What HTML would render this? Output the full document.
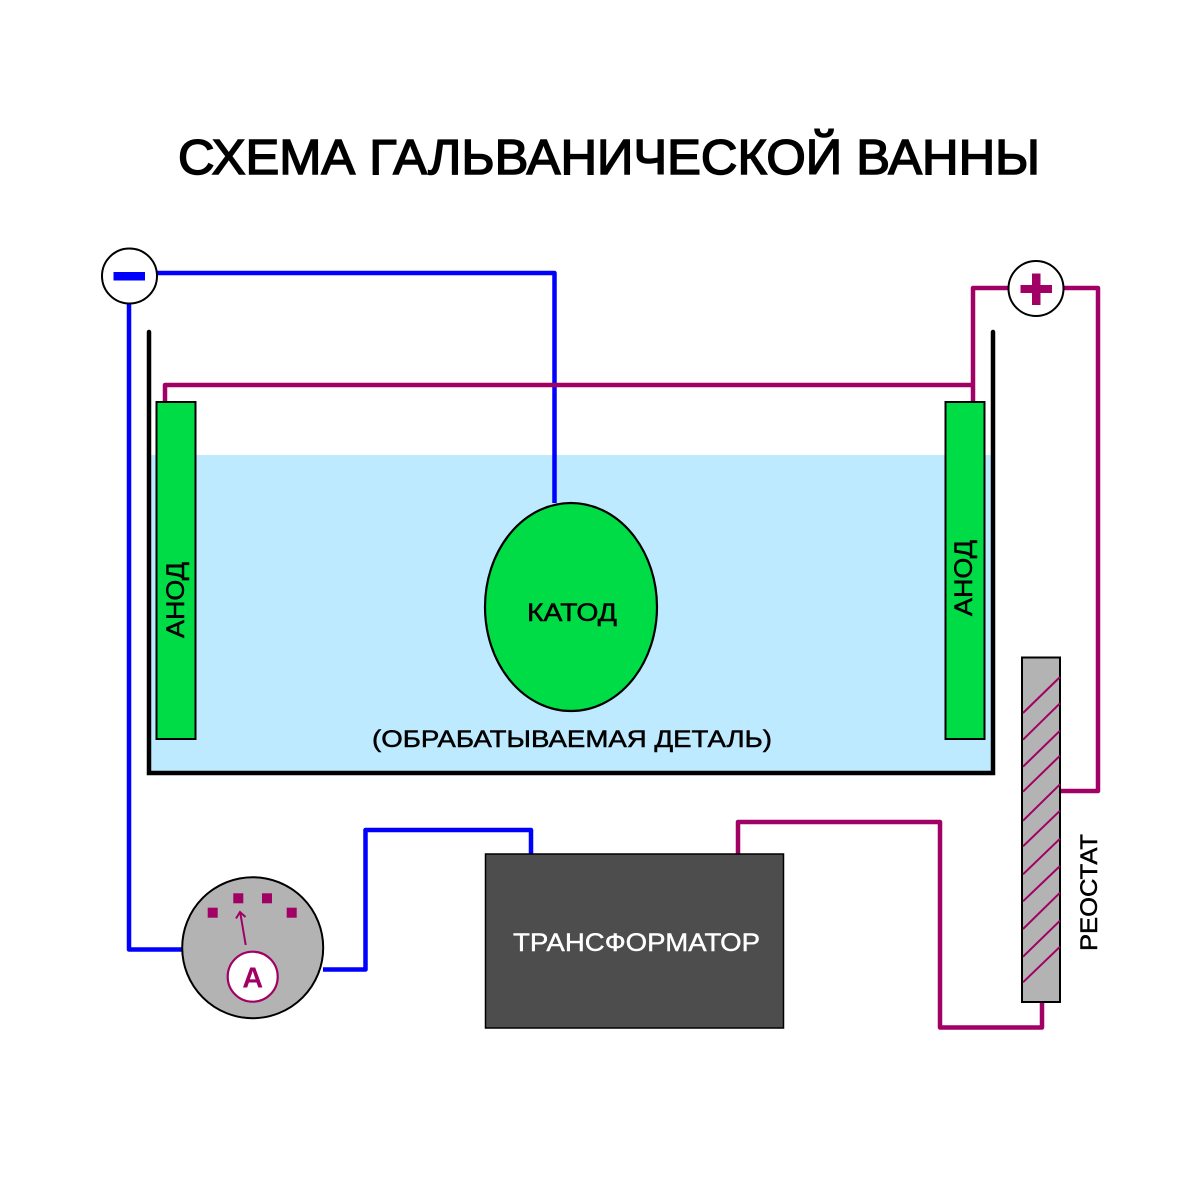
<!DOCTYPE html>
<html><head><meta charset="utf-8"><style>html,body{margin:0;padding:0;background:#fff}svg{display:block}text{font-family:"Liberation Sans",sans-serif}</style></head>
<body>
<svg width="1200" height="1200" viewBox="0 0 1200 1200" xmlns="http://www.w3.org/2000/svg">
<rect width="1200" height="1200" fill="#fff"/>
<text x="178" y="174" font-size="49" stroke="#000" stroke-width="1.5" textLength="862" lengthAdjust="spacingAndGlyphs" fill="#000">СХЕМА ГАЛЬВАНИЧЕСКОЙ ВАННЫ</text>

<rect x="149" y="455" width="844" height="318" fill="#bdeaff"/>

<g fill="none" stroke-width="4.5" stroke-linejoin="round" stroke-linecap="butt">
<g stroke="#0000ff">
<path d="M129 304V949.5H182"/>
<path d="M323 969.5H365.5V830H531V854"/>
<path d="M157 273H554.5V503"/>
</g>
<g stroke="#a10064">
<path d="M165 402V385H973"/>
<path d="M973 402V288H1008"/>
<path d="M1064 288H1098V791H1060"/>
<path d="M738 854V822H940V1027.5H1042V1002"/>
</g>
</g>

<path d="M149 332V773H993V332" fill="none" stroke="#000" stroke-width="4.5" stroke-linecap="round" stroke-linejoin="miter"/>

<rect x="156.5" y="402" width="39" height="337" fill="#00dc46" stroke="#000" stroke-width="2"/>
<rect x="945.5" y="402" width="39" height="337" fill="#00dc46" stroke="#000" stroke-width="2"/>
<ellipse cx="571" cy="607" rx="86" ry="104" fill="#00dc46" stroke="#000" stroke-width="2.2"/>

<g stroke="#000" stroke-width="0.5" fill="#000">
<text transform="translate(184,638) rotate(-90)" font-size="25" textLength="76" lengthAdjust="spacingAndGlyphs">АНОД</text>
<text transform="translate(972,616) rotate(-90)" font-size="25" textLength="76" lengthAdjust="spacingAndGlyphs">АНОД</text>
<text x="527" y="621" font-size="25" textLength="90" lengthAdjust="spacingAndGlyphs">КАТОД</text>
<text x="372" y="747" font-size="24" textLength="400" lengthAdjust="spacingAndGlyphs">(ОБРАБАТЫВАЕМАЯ ДЕТАЛЬ)</text>
<text transform="translate(1097,951) rotate(-90)" font-size="24" textLength="117" lengthAdjust="spacingAndGlyphs">РЕОСТАТ</text>
</g>

<circle cx="129.5" cy="276" r="27.5" fill="#fff" stroke="#000" stroke-width="2"/>
<rect x="113.5" y="272" width="31.5" height="8.5" fill="#0000ff"/>
<circle cx="1036" cy="288.5" r="27.5" fill="#fff" stroke="#000" stroke-width="2"/>
<rect x="1020.5" y="285" width="31.5" height="8" fill="#a10064"/>
<rect x="1032" y="273.5" width="8.5" height="31.5" fill="#a10064"/>

<rect x="485.5" y="854" width="298" height="174" fill="#4d4d4d" stroke="#000" stroke-width="1.5"/>
<text x="513" y="951" font-size="25" stroke="#fff" stroke-width="0.4" textLength="247" lengthAdjust="spacingAndGlyphs" fill="#fff">ТРАНСФОРМАТОР</text>

<circle cx="252.7" cy="947.7" r="70.5" fill="#b3b3b3" stroke="#000" stroke-width="2"/>
<g fill="#a10064">
<rect x="207.7" y="907.7" width="10" height="10"/>
<rect x="233.3" y="893.3" width="10" height="10"/>
<rect x="262" y="893.3" width="10" height="10"/>
<rect x="286.7" y="907.7" width="10" height="10"/>
</g>
<path d="M245.7 945L240.3 913M236 918.5L240 912L245.5 917" fill="none" stroke="#a10064" stroke-width="2"/>
<circle cx="252.7" cy="976.7" r="25" fill="#fff" stroke="#a10064" stroke-width="2.2"/>
<text x="252.7" y="987.5" font-size="29" font-weight="bold" text-anchor="middle" fill="#a10064">А</text>

<rect x="1022" y="657.5" width="38" height="344.5" fill="#b3b3b3" stroke="#000" stroke-width="2"/>
<path d="M1023 713L1060 677M1023 739.7L1060 703.3M1023 766.7L1060 730.7M1023 791.7L1060 755.7M1023 820.7L1060 784.3M1023 846.3L1060 810.7M1023 874.3L1060 838.7M1023 901.3L1060 866M1023 929L1060 892.7M1023 956.7L1060 920.7M1023 982.3L1060 946.7" fill="none" stroke="#a10064" stroke-width="2"/>
</svg>
</body></html>
